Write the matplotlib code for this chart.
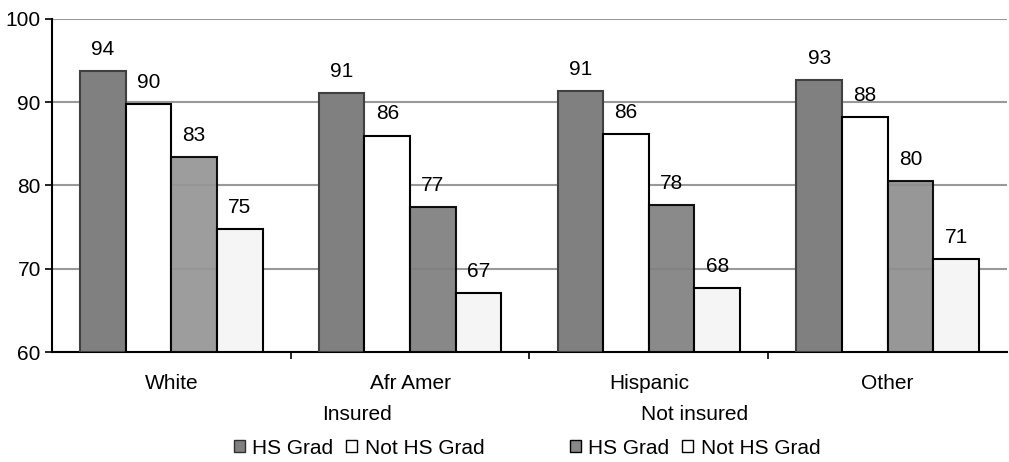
import matplotlib.pyplot as plt
import numpy as np
from matplotlib.patches import Patch

plt.rcParams['font.family'] = ['Liberation Sans', 'DejaVu Sans']
plt.rcParams['font.size'] = 15

groups = ['White', 'Afr Amer', 'Hispanic', 'Other']
ins_grad = [93.7, 91.1, 91.3, 92.7]
ins_not = [89.8, 86.0, 86.2, 88.2]
unins_grad = [83.4, 77.4, 77.6, 80.5]
unins_not = [74.8, 67.1, 67.7, 71.2]
labels = [[94, 91, 91, 93], [90, 86, 86, 88], [83, 77, 78, 80], [75, 67, 68, 71]]

series = [ins_grad, ins_not, unins_grad, unins_not]
# the third bar's shading varies a little from group to group in the original
faces = ['#808080', '#ffffff', ['#959595', '#7e7e7e', '#808080', '#8e8e8e'], '#f5f5f5']
edges = ['#404040', '#000000', '#000000', '#000000']
alphas = [1, 1, 0.92, 1]

fig = plt.figure(figsize=(10.09, 4.62), dpi=100)
ax = fig.add_axes([0.0515, 0.238, 0.9465, 0.721])

x = np.arange(len(groups))
w = 0.191
for i, vals in enumerate(series):
    pos = x + (i - 1.5) * w
    ax.bar(pos, np.array(vals) - 60, bottom=60, width=w, color=faces[i],
           edgecolor=edges[i], linewidth=1.5, alpha=alphas[i], zorder=3)
    for p, v, lab in zip(pos, vals, labels[i]):
        ax.text(p, v + 2.6, str(lab), ha='center', va='center', fontsize=15, zorder=4)

ax.set_ylim(60, 100)
ax.set_xlim(-0.5, 3.5)
ax.set_yticks([60, 70, 80, 90, 100])
ax.yaxis.grid(True, color='#999999', linewidth=1.5, zorder=0)
ax.set_axisbelow(True)
ax.set_xticks(x)
ax.set_xticklabels(groups)
ax.set_xticks([0.5, 1.5, 2.5], minor=True)
ax.tick_params(axis='x', which='major', length=0, pad=16)
ax.tick_params(axis='x', which='minor', length=5, width=1.2, direction='out')
ax.tick_params(axis='y', length=5, width=1.2, direction='out', pad=3)
for s in ['top', 'right']:
    ax.spines[s].set_visible(False)
for s in ['left', 'bottom']:
    ax.spines[s].set_linewidth(1.5)

h1 = [Patch(facecolor='#808080', edgecolor='#303030'), Patch(facecolor='white', edgecolor='black')]
h2 = [Patch(facecolor='#888888', edgecolor='black'), Patch(facecolor='white', edgecolor='black')]
kw = dict(ncol=2, frameon=False, handlelength=0.55, handleheight=0.55, handletextpad=0.35,
          columnspacing=0.6, fontsize=15, loc='center', borderpad=0)
fig.legend(h1, ['HS Grad', 'Not HS Grad'], bbox_to_anchor=(359 / 1009, 1 - 448 / 462), **kw)
fig.legend(h2, ['HS Grad', 'Not HS Grad'], bbox_to_anchor=(695 / 1009, 1 - 448 / 462), **kw)
fig.text(357 / 1009, 1 - 415 / 462, 'Insured', ha='center', va='center', fontsize=15)
fig.text(695 / 1009, 1 - 415 / 462, 'Not insured', ha='center', va='center', fontsize=15)

fig.savefig('out.png', dpi=100)
